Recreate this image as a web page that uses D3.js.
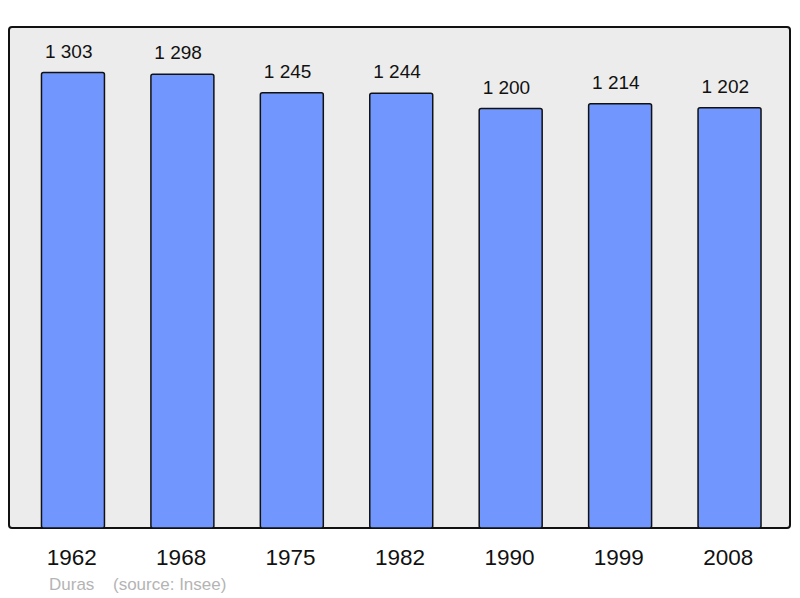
<!DOCTYPE html>
<html>
<head>
<meta charset="utf-8">
<script src="https://cdn.jsdelivr.net/npm/d3@7"></script>
<style>
  body { margin: 0; background: #fff; }
  svg { display: block; font-family: "Liberation Sans", Arial, sans-serif; }
</style>
</head>
<body>
<script>
// population data (Duras)
var years = ["1962", "1968", "1975", "1982", "1990", "1999", "2008"];
var population = [1303, 1298, 1245, 1244, 1200, 1214, 1202];
var town = "Duras";
var source = "(source: Insee)";

var w = 800, h = 598;

var svg = d3.select("body").append("svg")
  .attr("width", w)
  .attr("height", h);

// grey panel
svg.append("rect")
  .attr("x", 9).attr("y", 27)
  .attr("width", 781).attr("height", 501)
  .attr("rx", 3).attr("ry", 3)
  .style("fill", "#ececec")
  .style("stroke", "#111")
  .style("stroke-width", 2);

var x = d3.scaleBand()
  .domain(years)
  .range([18, 784])
  .paddingInner(0.42)
  .paddingOuter(0.21);

var y = d3.scaleLinear()
  .domain([0, d3.max(population) * 1.1])
  .range([528, 27]);

var fmt = function(v) { return d3.format(",")(v).replace(/,/g, " "); };

var data = years.map(function(yr, i) { return { year: yr, value: population[i] }; });

svg.selectAll("rect.bar")
  .data(data)
  .enter().append("rect")
  .attr("class", "bar")
  .attr("x", function(d) { return x(d.year) + 0.5; })
  .attr("y", function(d) { return y(d.value); })
  .attr("width", x.bandwidth() - 0.5)
  .attr("height", function(d) { return y(0) - y(d.value); })
  .attr("rx", 2).attr("ry", 2)
  .style("fill", "#7197ff")
  .style("stroke", "#111")
  .style("stroke-width", 1.5);

// value labels
svg.selectAll("text.val")
  .data(data)
  .enter().append("text")
  .attr("class", "val")
  .attr("x", function(d) { return x(d.year) + x.bandwidth() / 2 - 4; })
  .attr("y", function(d) { return y(d.value) - 15; })
  .attr("text-anchor", "middle")
  .style("font-size", "19px")
  .style("fill", "#111")
  .text(function(d) { return fmt(d.value); });

// year labels
svg.selectAll("text.year")
  .data(data)
  .enter().append("text")
  .attr("class", "year")
  .attr("x", function(d) { return x(d.year) + x.bandwidth() / 2 - 1; })
  .attr("y", 565)
  .attr("text-anchor", "middle")
  .style("font-size", "22.5px")
  .style("fill", "#111")
  .text(function(d) { return d.year; });

// footer
svg.append("text")
  .attr("x", 49).attr("y", 590)
  .style("font-size", "17px")
  .style("fill", "#b4b4b4")
  .text(town);
svg.append("text")
  .attr("x", 113).attr("y", 590)
  .style("font-size", "17px")
  .style("fill", "#b4b4b4")
  .text(source);
</script>
</body>
</html>
